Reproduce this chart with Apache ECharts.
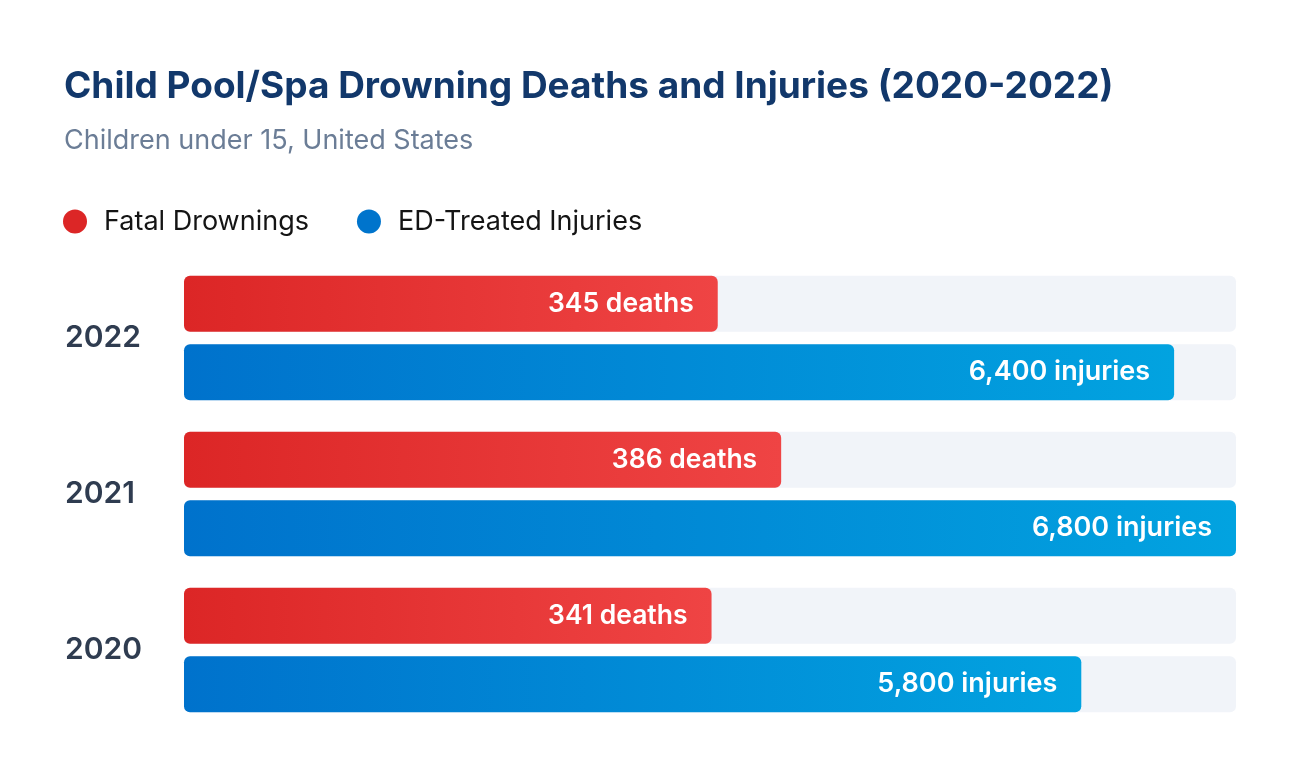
<!DOCTYPE html>
<html><head><meta charset="utf-8">
<script src="https://cdn.jsdelivr.net/npm/echarts@6/dist/echarts.min.js"></script>
<style>html,body{margin:0;padding:0;background:#fff}#c{width:1300px;height:776px}</style>
</head><body><div id="c"></div>
<script>
const years = ['2022', '2021', '2020'];
const deaths = [345, 386, 341];
const injuries = [6400, 6800, 5800];
const deathsMax = 680;
const injuriesMax = 6800;

const chart = echarts.init(document.getElementById('c'));
const fmt = n => n.toLocaleString('en-US');
chart.setOption({
  backgroundColor: '#fff',
  title: [
    {text: 'Child Pool/Spa Drowning Deaths and Injuries (2020-2022)', left: 64, top: 68, padding: 0,
     textStyle: {fontFamily: 'Inter', fontWeight: 'bold', fontSize: 37, color: '#12386b'}},
    {text: 'Children under 15, United States', left: 64, top: 127, padding: 0,
     textStyle: {fontFamily: 'Inter', fontWeight: 'normal', fontSize: 27, color: '#6b7d96'}}
  ],
  legend: {
    left: 58, top: 203, icon: 'circle', itemWidth: 24, itemHeight: 24, itemGap: 48,
    textStyle: {fontFamily: 'Inter', fontSize: 27, color: '#141414', padding: [0, 0, 0, 12]},
    data: [{name: 'Fatal Drownings', itemStyle: {color: '#dc2626'}},
           {name: 'ED-Treated Injuries', itemStyle: {color: '#0074cc'}}]
  },
  grid: {left: 184, right: 64, top: 260, bottom: 48},
  xAxis: [
    {type: 'value', min: 0, max: deathsMax, show: false},
    {type: 'value', min: 0, max: injuriesMax, show: false}
  ],
  yAxis: {
    type: 'category', data: years, inverse: true,
    axisLine: {show: false}, axisTick: {show: false}, splitLine: {show: false},
    axisLabel: {align: 'left', margin: 119, fontFamily: 'Inter', fontWeight: 600, fontSize: 30, color: '#2f3c50'}
  },
  series: [
    {
      name: 'Fatal Drownings', type: 'bar', xAxisIndex: 0, data: deaths,
      barWidth: 56, barGap: '22%',
      showBackground: true,
      backgroundStyle: {color: '#f1f4f9', borderRadius: 6},
      itemStyle: {borderRadius: 6, color: new echarts.graphic.LinearGradient(0, 0, 1, 0, [
        {offset: 0, color: '#dc2626'}, {offset: 1, color: '#ef4444'}])},
      label: {show: true, position: 'insideRight', distance: 24, formatter: p => fmt(p.value) + ' deaths',
        fontFamily: 'Inter', fontWeight: 600, fontSize: 26.5, color: '#fff'}
    },
    {
      name: 'ED-Treated Injuries', type: 'bar', xAxisIndex: 1, data: injuries,
      barWidth: 56, barGap: '22%',
      showBackground: true,
      backgroundStyle: {color: '#f1f4f9', borderRadius: 6},
      itemStyle: {borderRadius: 6, color: new echarts.graphic.LinearGradient(0, 0, 1, 0, [
        {offset: 0, color: '#0072cc'}, {offset: 1, color: '#02a3e0'}])},
      label: {show: true, position: 'insideRight', distance: 24, formatter: p => fmt(p.value) + ' injuries',
        fontFamily: 'Inter', fontWeight: 600, fontSize: 27, color: '#fff'}
    }
  ]
});
</script></body></html>
